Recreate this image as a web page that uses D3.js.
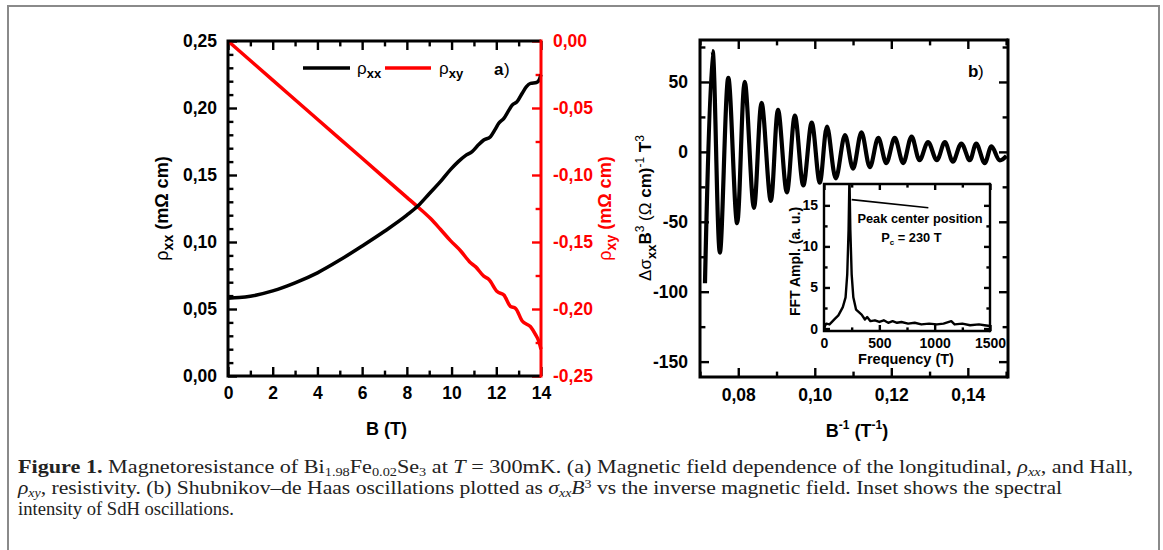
<!DOCTYPE html>
<html>
<head>
<meta charset="utf-8">
<script src="https://cdn.jsdelivr.net/npm/d3@7"></script>
<style>
  body { margin: 0; background: #fff; }
  svg text { font-family: "Liberation Sans", Arial, sans-serif; }
</style>
</head>
<body>
<svg id="fig" width="1163" height="550"></svg>
<script>
// ---- panel a : rho_xx and rho_xy vs B ----
const fieldXX = [0, 0.5, 1, 2, 3, 4, 5, 6, 7, 8, 8.5, 9, 9.5, 9.95, 10.3, 10.62, 10.92, 11.2, 11.44, 11.74, 11.95, 12.11, 12.34, 12.55, 12.71, 12.93, 13.16, 13.35, 13.53, 13.8, 13.92, 14.0];
const rhoXX   = [0.058, 0.0585, 0.0595, 0.0635, 0.0695, 0.077, 0.0865, 0.097, 0.108, 0.120, 0.127, 0.136, 0.145, 0.154, 0.160, 0.1645, 0.1675, 0.1725, 0.1761, 0.1786, 0.184, 0.1886, 0.1923, 0.198, 0.2022, 0.2047, 0.211, 0.216, 0.2184, 0.219, 0.221, 0.225];
const fieldXY = [0, 2, 4, 6, 8, 8.4, 9.06, 9.5, 9.95, 10.4, 10.85, 11.07, 11.44, 11.67, 12.04, 12.34, 12.63, 12.86, 13.16, 13.53, 13.75, 13.9, 14.0];
const rhoXY   = [0, -0.0292, -0.0584, -0.0875, -0.1167, -0.1225, -0.1325, -0.1405, -0.1490, -0.1565, -0.1655, -0.1684, -0.1755, -0.178, -0.187, -0.1896, -0.198, -0.1995, -0.209, -0.2132, -0.219, -0.224, -0.230];
const bTicks = [0, 2, 4, 6, 8, 10, 12, 14];
const rhoXXTicks = [0, 0.05, 0.10, 0.15, 0.20, 0.25];
const rhoXYTicks = [-0.25, -0.20, -0.15, -0.10, -0.05, 0];

// ---- panel b : SdH oscillations vs 1/B ----
const invB   = [0.0713, 0.0733, 0.0752, 0.0774, 0.0797, 0.0817, 0.0841, 0.0861, 0.0885, 0.0904, 0.0927, 0.0948, 0.0970, 0.0992, 0.1013, 0.1032, 0.1055, 0.1079, 0.1100, 0.1122, 0.1144, 0.1166, 0.1187, 0.1209, 0.1231, 0.1253, 0.1274, 0.1296, 0.1319, 0.1340, 0.1361, 0.1383, 0.1405, 0.1422, 0.1444, 0.1462, 0.1483, 0.1501];
const dSigma = [-94, 72, -72, 53, -51, 50, -40, 35, -35, 30, -29, 26, -24, 21, -22, 18, -19, 12, -12, 14, -11, 10, -8, 10, -8, 11, -6, 7, -6, 7, -7, 6, -6, 6, -8, 4, -6, -3];
const invBTicks = [0.08, 0.10, 0.12, 0.14];
const sigmaTicks = [-150, -100, -50, 0, 50];

// ---- inset : FFT spectrum ----
const fftFreq = [0, 20, 50, 100, 130, 170, 195, 210, 222, 230, 238, 250, 265, 290, 340, 370, 390, 420, 460, 500, 540, 580, 620, 660, 700, 760, 820, 880, 950, 1020, 1080, 1150, 1180, 1250, 1320, 1400, 1450, 1500];
const fftAmp  = [0.1, 0.6, 0.5, 1.2, 1.6, 2.6, 3.8, 6.6, 12, 18.5, 12, 6.6, 3.8, 2.3, 1.7, 1.1, 1.4, 0.9, 1.0, 0.8, 1.0, 0.7, 0.9, 0.7, 0.8, 0.6, 0.7, 0.5, 0.6, 0.5, 0.6, 0.9, 0.5, 0.6, 0.4, 0.5, 0.4, 0.3];
const freqTicks = [0, 500, 1000, 1500];
const ampTicks = [0, 5, 10, 15];

const svg = d3.select("#fig");
const loc = d3.formatLocale({ decimal: ",", thousands: ".", grouping: [3], currency: ["", ""], minus: "-" });
const f2 = loc.format(".2f");
const f0 = loc.format("d");

// figure frame
svg.append("path")
  .attr("d", "M8,560 V6 H1159 V560")
  .attr("fill", "none").attr("stroke", "#8a8a8a").attr("stroke-width", 2);

// draws an axis with inward major and minor ticks
function axis(g, gen, major, minor, fmt, color, fs, pad, len) {
  const a = g.append("g").attr("color", color);
  a.call(gen.tickValues(major).tickSizeInner(-len).tickSizeOuter(0).tickPadding(pad).tickFormat(fmt));
  const m = g.append("g").attr("color", color);
  m.call(gen.tickValues(minor).tickSizeInner(-len * 0.6).tickSizeOuter(0).tickFormat(""));
  [a, m].forEach(s => {
    s.select(".domain").remove();
    s.selectAll("line").attr("stroke-width", 2.4);
    s.selectAll("text").attr("font-size", fs).attr("font-weight", "bold").attr("fill", color);
  });
}
function frame(p, rightColor, w) {
  const g = svg.append("g").attr("fill", "none").attr("stroke-width", w);
  g.append("path").attr("stroke", "#000")
    .attr("d", `M${p.right},${p.top} H${p.left} V${p.bottom} H${p.right}`);
  g.append("path").attr("stroke", rightColor)
    .attr("d", `M${p.right},${p.top - w / 2} V${p.bottom + w / 2}`);
}

// ================= panel a =================
const pa = { left: 228, right: 541, top: 41, bottom: 376 };
const xA = d3.scaleLinear().domain([0, 14]).range([pa.left, pa.right]);
const yA = d3.scaleLinear().domain([0, 0.25]).range([pa.bottom, pa.top]);
const yA2 = d3.scaleLinear().domain([-0.25, 0]).range([pa.bottom, pa.top]);
const bMinor = d3.range(1, 14, 2);
const xxMinor = d3.range(0.01, 0.25, 0.01).filter(v => Math.abs(v / 0.05 - Math.round(v / 0.05)) > 0.01);
const xyMinor = d3.range(-0.225, 0, 0.05);

axis(svg.append("g").attr("transform", `translate(0,${pa.bottom})`), d3.axisBottom(xA), bTicks, bMinor, f0, "#000", 17.5, 11, 9);
axis(svg.append("g").attr("transform", `translate(0,${pa.top})`), d3.axisTop(xA), bTicks, bMinor, "", "#000", 17.5, 11, 9);
axis(svg.append("g").attr("transform", `translate(${pa.left},0)`), d3.axisLeft(yA), rhoXXTicks, xxMinor, f2, "#000", 17.5, 11, 9);
axis(svg.append("g").attr("transform", `translate(${pa.right},0)`), d3.axisRight(yA2), rhoXYTicks, xyMinor, f2, "#ff0000", 17.5, 12, 9);

const lineXX = d3.line().x(d => xA(d[0])).y(d => yA(d[1])).curve(d3.curveMonotoneX);
const lineXY = d3.line().x(d => xA(d[0])).y(d => yA2(d[1])).curve(d3.curveMonotoneX);
svg.append("path").datum(d3.zip(fieldXY, rhoXY)).attr("d", lineXY)
  .attr("fill", "none").attr("stroke", "#ff0000").attr("stroke-width", 3.5);
svg.append("path").datum(d3.zip(fieldXX, rhoXX)).attr("d", lineXX)
  .attr("fill", "none").attr("stroke", "#000").attr("stroke-width", 3.5);
frame(pa, "#ff0000", 3);

// legend
const lg = svg.append("g").attr("font-size", 17);
lg.append("line").attr("x1", 303).attr("x2", 350).attr("y1", 68).attr("y2", 68).attr("stroke", "#000").attr("stroke-width", 3.5);
lg.append("line").attr("x1", 385).attr("x2", 431).attr("y1", 68).attr("y2", 68).attr("stroke", "#ff0000").attr("stroke-width", 3.5);
const t1 = lg.append("text").attr("x", 357).attr("y", 74);
t1.append("tspan").text("ρ");
t1.append("tspan").attr("font-weight", "bold").attr("font-size", 13).attr("dy", 4).text("xx");
const t2 = lg.append("text").attr("x", 439).attr("y", 74);
t2.append("tspan").text("ρ");
t2.append("tspan").attr("font-weight", "bold").attr("font-size", 13).attr("dy", 4).text("xy");
lg.append("text").attr("x", 494).attr("y", 75).attr("font-weight", "bold").text("a");
lg.append("text").attr("x", 504).attr("y", 75).text(")");

// axis titles panel a
const ty = svg.append("text").attr("transform", `translate(168,${(pa.top + pa.bottom) / 2}) rotate(-90)`)
  .attr("text-anchor", "middle").attr("font-size", 18);
ty.append("tspan").text("ρ");
ty.append("tspan").attr("font-weight", "bold").attr("font-size", 14).attr("dy", 5).text("xx");
ty.append("tspan").attr("font-weight", "bold").attr("dy", -5).text(" (mΩ cm)");
const ty2 = svg.append("text").attr("transform", `translate(611,${(pa.top + pa.bottom) / 2}) rotate(-90)`)
  .attr("text-anchor", "middle").attr("font-size", 18).attr("fill", "#ff0000");
ty2.append("tspan").text("ρ");
ty2.append("tspan").attr("font-weight", "bold").attr("font-size", 14).attr("dy", 5).text("xy");
ty2.append("tspan").attr("font-weight", "bold").attr("dy", -5).text(" (mΩ cm)");
svg.append("text").attr("x", (pa.left + pa.right) / 2 + 2).attr("y", 435).attr("text-anchor", "middle")
  .attr("font-size", 18).attr("font-weight", "bold").text("B (T)");

// ================= panel b =================
const pb = { left: 700, right: 1008, top: 40, bottom: 377 };
const xB = d3.scaleLinear().domain([0.07, 0.1505]).range([pb.left, pb.right]);
const yB = d3.scaleLinear().domain([-161, 80]).range([pb.bottom, pb.top]);
const invMinor = [0.07, 0.09, 0.11, 0.13, 0.15];
const sigMinor = [-125, -75, -25, 25, 75];

axis(svg.append("g").attr("transform", `translate(0,${pb.bottom})`), d3.axisBottom(xB), invBTicks, invMinor, f2, "#000", 17.5, 12, 9);
axis(svg.append("g").attr("transform", `translate(0,${pb.top})`), d3.axisTop(xB), invBTicks, invMinor, "", "#000", 17.5, 12, 9);
axis(svg.append("g").attr("transform", `translate(${pb.left},0)`), d3.axisLeft(yB), sigmaTicks, sigMinor, f0, "#000", 17.5, 12, 9);
axis(svg.append("g").attr("transform", `translate(${pb.right},0)`), d3.axisRight(yB), sigmaTicks, sigMinor, "", "#000", 17.5, 12, 9);

const lineB = d3.line().x(d => xB(d[0])).y(d => yB(d[1])).curve(d3.curveCatmullRom.alpha(0.5));
svg.append("path").datum(d3.zip(invB, dSigma)).attr("d", lineB)
  .attr("fill", "none").attr("stroke", "#000").attr("stroke-width", 4.2).attr("stroke-linejoin", "round");
frame(pb, "#000", 3);

svg.append("text").attr("x", 968).attr("y", 77).attr("font-size", 17).attr("font-weight", "bold").text("b");
svg.append("text").attr("x", 978).attr("y", 77).attr("font-size", 17).text(")");

const tyb = svg.append("text").attr("transform", `translate(651,208) rotate(-90)`)
  .attr("text-anchor", "middle").attr("font-size", 17);
tyb.append("tspan").text("Δσ");
tyb.append("tspan").attr("font-weight", "bold").attr("font-size", 13).attr("dy", 5).text("xx");
tyb.append("tspan").attr("font-weight", "bold").attr("dy", -5).text("B");
tyb.append("tspan").attr("font-size", 12).attr("dy", -7).text("3");
tyb.append("tspan").attr("dy", 7).text(" (Ω ");
tyb.append("tspan").attr("font-weight", "bold").text("cm)");
tyb.append("tspan").attr("font-size", 12).attr("dy", -7).text("-1");
tyb.append("tspan").attr("font-weight", "bold").attr("dy", 7).text(" T");
tyb.append("tspan").attr("font-size", 12).attr("dy", -7).text("3");

const txb = svg.append("text").attr("x", 857).attr("y", 437).attr("text-anchor", "middle")
  .attr("font-size", 18).attr("font-weight", "bold");
txb.append("tspan").text("B");
txb.append("tspan").attr("font-size", 12).attr("dy", -8).text("-1");
txb.append("tspan").attr("dy", 8).text(" (T");
txb.append("tspan").attr("font-size", 12).attr("dy", -8).text("-1");
txb.append("tspan").attr("dy", 8).text(")");

// ================= inset =================
const pi = { left: 824, right: 990, top: 184, bottom: 331 };
const xI = d3.scaleLinear().domain([0, 1500]).range([pi.left, pi.right]);
const yI = d3.scaleLinear().domain([-0.3, 17.6]).range([pi.bottom, pi.top]);
svg.append("rect").attr("x", pi.left).attr("y", pi.top).attr("width", pi.right - pi.left)
  .attr("height", pi.bottom - pi.top).attr("fill", "#fff");
svg.append("clipPath").attr("id", "clipI").append("rect")
  .attr("x", pi.left).attr("y", pi.top).attr("width", pi.right - pi.left).attr("height", pi.bottom - pi.top);

axis(svg.append("g").attr("transform", `translate(0,${pi.bottom})`), d3.axisBottom(xI), freqTicks, [250, 750, 1250], f0, "#000", 14, 7, 6);
axis(svg.append("g").attr("transform", `translate(0,${pi.top})`), d3.axisTop(xI), freqTicks, [250, 750, 1250], "", "#000", 14, 7, 6);
axis(svg.append("g").attr("transform", `translate(${pi.left},0)`), d3.axisLeft(yI), ampTicks, [2.5, 7.5, 12.5], f0, "#000", 14, 6, 6);
axis(svg.append("g").attr("transform", `translate(${pi.right},0)`), d3.axisRight(yI), ampTicks, [2.5, 7.5, 12.5], "", "#000", 14, 6, 6);

const lineI = d3.line().x(d => xI(d[0])).y(d => yI(d[1]));
svg.append("path").datum(d3.zip(fftFreq, fftAmp)).attr("d", lineI).attr("clip-path", "url(#clipI)")
  .attr("fill", "none").attr("stroke", "#000").attr("stroke-width", 2.4).attr("stroke-linejoin", "round");
frame(pi, "#000", 2.4);

// annotation
svg.append("line").attr("x1", xI(250)).attr("y1", yI(15.7)).attr("x2", xI(943)).attr("y2", yI(14.7))
  .attr("stroke", "#000").attr("stroke-width", 1.6);
svg.append("text").attr("x", xI(868)).attr("y", yI(13.5) + 5).attr("text-anchor", "middle")
  .attr("font-size", 12.8).attr("font-weight", "bold").text("Peak center position");
const pc = svg.append("text").attr("x", xI(790)).attr("y", yI(11.2) + 5).attr("text-anchor", "middle")
  .attr("font-size", 12.8).attr("font-weight", "bold");
pc.append("tspan").text("P");
pc.append("tspan").attr("font-size", 8).attr("dy", 3).text("c");
pc.append("tspan").attr("dy", -3).text(" = 230 T");

svg.append("text").attr("transform", `translate(800,${(pi.top + pi.bottom) / 2 + 4}) rotate(-90)`)
  .attr("text-anchor", "middle").attr("font-size", 14).attr("font-weight", "bold").text("FFT Ampl. (a. u.)");
svg.append("text").attr("x", (pi.left + pi.right) / 2 - 1).attr("y", 364).attr("text-anchor", "middle")
  .attr("font-size", 14.5).attr("font-weight", "bold").text("Frequency (T)");

// ================= caption =================
const cap = svg.append("g").attr("font-size", 18.6).attr("fill", "#222");
const l1 = cap.append("text").attr("x", 18).attr("y", 473).attr("textLength", 1115).attr("lengthAdjust", "spacingAndGlyphs")
  .style("font-family", "'Liberation Serif', serif");
l1.append("tspan").attr("font-weight", "bold").text("Figure 1.");
l1.append("tspan").text("  Magnetoresistance of Bi");
l1.append("tspan").attr("font-size", 12).attr("dy", 3).text("1.98");
l1.append("tspan").attr("dy", -3).text("Fe");
l1.append("tspan").attr("font-size", 12).attr("dy", 3).text("0.02");
l1.append("tspan").attr("dy", -3).text("Se");
l1.append("tspan").attr("font-size", 12).attr("dy", 3).text("3");
l1.append("tspan").attr("dy", -3).text(" at ");
l1.append("tspan").attr("font-style", "italic").text("T");
l1.append("tspan").text(" = 300mK. (a) Magnetic field dependence of the longitudinal, ");
l1.append("tspan").attr("font-style", "italic").text("ρ");
l1.append("tspan").attr("font-style", "italic").attr("font-size", 12).attr("dy", 3).text("xx");
l1.append("tspan").attr("dy", -3).text(", and Hall,");

const l2 = cap.append("text").attr("x", 18).attr("y", 494).attr("textLength", 1044).attr("lengthAdjust", "spacingAndGlyphs")
  .style("font-family", "'Liberation Serif', serif");
l2.append("tspan").attr("font-style", "italic").text("ρ");
l2.append("tspan").attr("font-style", "italic").attr("font-size", 12).attr("dy", 3).text("xy");
l2.append("tspan").attr("dy", -3).text(", resistivity. (b) Shubnikov–de Haas oscillations plotted as ");
l2.append("tspan").attr("font-style", "italic").text("σ");
l2.append("tspan").attr("font-style", "italic").attr("font-size", 12).attr("dy", 3).text("xx");
l2.append("tspan").attr("font-style", "italic").attr("dy", -3).text("B");
l2.append("tspan").attr("font-size", 12).attr("dy", -6).text("3");
l2.append("tspan").attr("dy", 6).text(" vs the inverse magnetic field. Inset shows the spectral");

cap.append("text").attr("x", 18).attr("y", 515).style("font-family", "'Liberation Serif', serif")
  .text("intensity of SdH oscillations.");
</script>
</body>
</html>
